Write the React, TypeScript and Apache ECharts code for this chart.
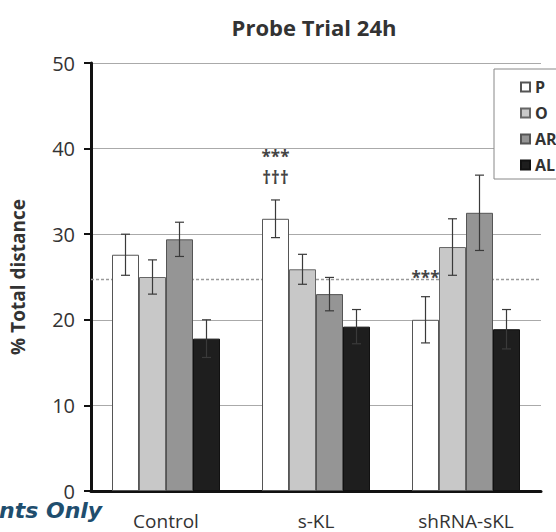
import React, { useEffect, useRef } from 'react';
import * as echarts from 'echarts';

const categories = ['Control', 's-KL', 'shRNA-sKL'];
const seriesNames = ['P', 'O', 'AR', 'AL'];
const valuesP = [27.6, 31.8, 20.0];
const valuesO = [25.0, 25.9, 28.5];
const valuesAR = [29.4, 23.0, 32.5];
const valuesAL = [17.8, 19.2, 18.9];
const errP = [2.4, 2.2, 2.7];
const errO = [2.0, 1.75, 3.3];
const errAR = [2.0, 1.95, 4.4];
const errAL = [2.2, 2.0, 2.3];
const chanceLevel = 24.7;
const yMin = 0;
const yMax = 50;
const yInterval = 10;
const annotations = [
  { category: 's-KL', series: 'P', y: 39.1, text: '***' },
  { category: 's-KL', series: 'P', y: 36.6, text: '†††' },
  { category: 'shRNA-sKL', series: 'P', y: 24.9, text: '***' },
];

const means = [valuesP, valuesO, valuesAR, valuesAL];
const errs = [errP, errO, errAR, errAL];
const fills = ['#ffffff', '#c8c8c8', '#959595', '#1e1e1e'];
const borders = ['#555555', '#666666', '#555555', '#111111'];
const BAR_W = 27;
const FONT = '"Open Sans", "DejaVu Sans", sans-serif';

export default function App() {
  const ref = useRef<HTMLDivElement>(null);
  useEffect(() => {
    if (!ref.current) return;
    const chart = echarts.init(ref.current, null, { renderer: 'svg' });

    const barSeries = seriesNames.map((name, i) => ({
      type: 'bar',
      name,
      data: means[i],
      barWidth: BAR_W,
      barGap: '0%',
      z: 2,
      itemStyle: { color: fills[i], borderColor: borders[i], borderWidth: 1 },
      silent: true,
    }));

    const errSeries = seriesNames.map((name, i) => ({
      type: 'custom',
      name: name + '-err',
      z: 5,
      silent: true,
      data: categories.map((_, j) => [j, means[i][j], errs[i][j]]),
      renderItem: (params: any, api: any) => {
        const c = api.value(0);
        const m = api.value(1);
        const e = api.value(2);
        const x = api.coord([c, m])[0] + (i - 1.5) * BAR_W;
        const yHi = api.coord([c, m + e])[1];
        const yLo = api.coord([c, m - e])[1];
        const cap = 4.5;
        const st = { stroke: '#3a3a3a', lineWidth: 1.2 };
        return {
          type: 'group',
          children: [
            { type: 'line', shape: { x1: x, y1: yHi, x2: x, y2: yLo }, style: st },
            { type: 'line', shape: { x1: x - cap, y1: yHi, x2: x + cap, y2: yHi }, style: st },
            { type: 'line', shape: { x1: x - cap, y1: yLo, x2: x + cap, y2: yLo }, style: st },
          ],
        };
      },
    }));

    const chanceSeries = {
      type: 'custom',
      name: 'chance',
      z: 1,
      silent: true,
      data: [[0, chanceLevel]],
      renderItem: (params: any, api: any) => {
        const y = api.coord([0, api.value(1)])[1];
        const cs = params.coordSys;
        return {
          type: 'line',
          shape: { x1: cs.x, y1: y, x2: cs.x + cs.width, y2: y },
          style: { stroke: '#9a9a9a', lineWidth: 1.5, lineDash: [3, 2] },
        };
      },
    };

    const annSeries = {
      type: 'custom',
      name: 'annotations',
      z: 6,
      silent: true,
      data: annotations.map((a) => [categories.indexOf(a.category), a.y, seriesNames.indexOf(a.series)]),
      renderItem: (params: any, api: any) => {
        const c = api.value(0);
        const yv = api.value(1);
        const si = api.value(2);
        const p = api.coord([c, yv]);
        return {
          type: 'text',
          x: p[0] + (si - 1.5) * BAR_W,
          y: p[1],
          style: {
            text: annotations[params.dataIndex].text,
            fontSize: 17,
            fontWeight: 'bold',
            fontFamily: FONT,
            fill: '#444',
            align: 'center',
            verticalAlign: 'middle',
          },
        };
      },
    };

    chart.setOption({
      animation: false,
      backgroundColor: '#ffffff',
      textStyle: { fontFamily: FONT },
      grid: { left: 89, right: 15, top: 63, bottom: 41, containLabel: false },
      graphic: [
        {
          type: 'text',
          x: 314,
          y: 27,
          style: {
            text: 'Probe Trial 24h',
            fontSize: 22,
            fontWeight: 'bold',
            fontFamily: FONT,
            fill: '#333',
            align: 'center',
            verticalAlign: 'middle',
          },
        },
        {
          type: 'text',
          x: -1,
          y: 510,
          z: 100,
          style: {
            text: 'nts Only',
            fontSize: 22,
            fontWeight: 'bold',
            fontStyle: 'italic',
            fontFamily: '"DejaVu Sans", sans-serif',
            fill: '#1f4e6e',
            align: 'left',
            verticalAlign: 'middle',
          },
        },
      ],
      legend: {
        orient: 'vertical',
        left: 494,
        top: 69,
        data: seriesNames,
        icon: 'rect',
        itemWidth: 9,
        itemHeight: 9,
        itemGap: 10,
        padding: [10, 0, 6, 26],
        backgroundColor: '#ffffff',
        borderColor: '#888',
        borderWidth: 1,
        selectedMode: false,
        textStyle: { fontSize: 16, fontWeight: 'bold', color: '#333', fontFamily: FONT, lineHeight: 15 },
      },
      xAxis: {
        type: 'category',
        data: categories,
        axisLine: { lineStyle: { color: '#111', width: 3 } },
        axisTick: { alignWithLabel: true, length: 5, lineStyle: { color: '#111', width: 2 } },
        axisLabel: { fontSize: 19, color: '#333', margin: 20, fontFamily: FONT },
      },
      yAxis: {
        type: 'value',
        min: yMin,
        max: yMax,
        interval: yInterval,
        name: '% Total distance',
        nameLocation: 'middle',
        nameGap: 64,
        nameTextStyle: { fontSize: 19, fontWeight: 'bold', color: '#333', fontFamily: FONT },
        axisLine: { show: true, lineStyle: { color: '#111', width: 3 } },
        axisTick: { show: true, length: 7, lineStyle: { color: '#111', width: 2 } },
        axisLabel: { fontSize: 20, color: '#333', margin: 16, fontFamily: FONT },
        splitLine: { lineStyle: { color: '#aaaaaa', width: 1 } },
      },
      series: [chanceSeries, ...barSeries, ...errSeries, annSeries],
    });
    return () => chart.dispose();
  }, []);
  return <div ref={ref} style={{ position: 'fixed', left: 0, top: 0, width: 556, height: 532 }} />;
}
